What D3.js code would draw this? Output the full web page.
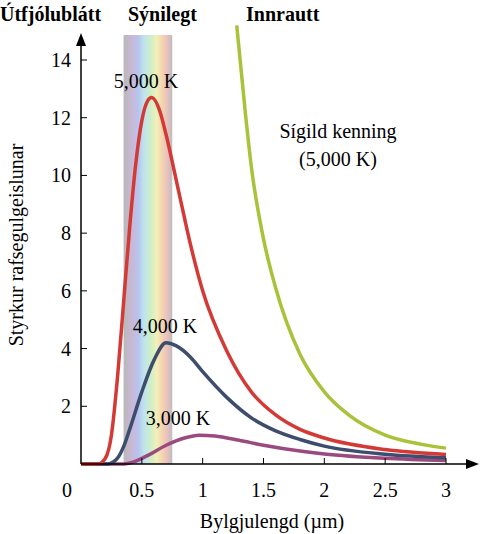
<!DOCTYPE html>
<html><head><meta charset="utf-8">
<script src="https://cdn.jsdelivr.net/npm/d3@7"></script>
<style>body{margin:0;background:#fff}text{font-family:"Liberation Serif","Times New Roman",serif}</style>
</head><body><div id="root"></div>
<script>
var xTicks = [0, 0.5, 1, 1.5, 2, 2.5, 3]
var xTickLabels = ["0", "0.5", "1", "1.5", "2", "2.5", "3"]
var yTicks = [2, 4, 6, 8, 10, 12, 14]

var k5000 = [[0,0],[0.14,0],[0.2,0.2],[0.25,1.0],[0.3,3.0],[0.35,5.6],[0.4,8.2],[0.45,10.4],[0.5,11.9],[0.55,12.6],[0.58,12.7],[0.65,12.2],[0.7,11.4],[0.8,9.5],[0.9,7.6],[1.0,6.0],[1.2,3.9],[1.4,2.5],[1.6,1.7],[1.8,1.2],[2.0,0.9],[2.5,0.5],[3,0.33]]
var k4000 = [[0,0],[0.22,0],[0.3,0.2],[0.35,0.6],[0.4,1.2],[0.5,2.5],[0.6,3.6],[0.7,4.2],[0.78,4.1],[0.9,3.7],[1.0,3.2],[1.2,2.3],[1.4,1.6],[1.6,1.15],[1.8,0.85],[2.0,0.62],[2.5,0.34],[3,0.22]]
var k3000 = [[0,0],[0.35,0],[0.45,0.1],[0.55,0.3],[0.7,0.65],[0.85,0.9],[0.97,1.0],[1.1,0.97],[1.3,0.82],[1.5,0.65],[1.8,0.45],[2.0,0.35],[2.5,0.2],[3,0.12]]
var classical = [[1.28,15.2],[1.35,12.2],[1.4,10.3],[1.5,7.8],[1.6,6.1],[1.8,3.8],[2.0,2.5],[2.2,1.7],[2.5,1.0],[2.8,0.68],[3,0.55]]

var svg = d3.select("#root").append("svg").attr("width", 486).attr("height", 534)
var x = d3.scaleLinear().domain([0, 3]).range([81, 446])
var y = d3.scaleLinear().domain([0, 14]).range([464, 60])

// visible band
var defs = svg.append("defs")
var g = defs.append("linearGradient").attr("id", "vis")
var stops = [["#b8b8b8",0],["#c9b8d8",0.18],["#b6c4ee",0.3],["#bfe4ee",0.42],["#cdeec8",0.55],["#f2f0b8",0.68],["#f5d2b0",0.8],["#e8c0c0",0.9],["#bdbdbd",1]]
stops.forEach(function(s){ g.append("stop").attr("offset", s[1]).attr("stop-color", s[0]) })
svg.append("rect").attr("x", x(0.35)).attr("y", 35).attr("width", x(0.75) - x(0.35)).attr("height", y(0) - 35).attr("fill", "url(#vis)")

var line = d3.line().x(function(d){ return x(d[0]) }).y(function(d){ return y(d[1]) }).curve(d3.curveMonotoneX)
svg.append("path").datum(classical).attr("d", line).attr("fill", "none").attr("stroke", "#a8c23a").attr("stroke-width", 3.5)
svg.append("path").datum(k3000).attr("d", line).attr("fill", "none").attr("stroke", "#9a4a7e").attr("stroke-width", 3.5)
svg.append("path").datum(k4000).attr("d", line).attr("fill", "none").attr("stroke", "#3e4d6e").attr("stroke-width", 3.5)
svg.append("path").datum(k5000).attr("d", line).attr("fill", "none").attr("stroke", "#d33a35").attr("stroke-width", 3.5)

// axes
svg.append("line").attr("x1", x(0)).attr("x2", 470).attr("y1", y(0)).attr("y2", y(0)).attr("stroke", "#000").attr("stroke-width", 1.5)
svg.append("line").attr("x1", x(0)).attr("x2", x(0)).attr("y1", y(0)).attr("y2", 42).attr("stroke", "#000").attr("stroke-width", 1.5)
svg.append("path").attr("d", "M" + (x(0)-5) + ",46L" + x(0) + ",33L" + (x(0)+5) + ",46Z").attr("fill", "#000")
svg.append("path").attr("d", "M466," + (y(0)-5) + "L479," + y(0) + "L466," + (y(0)+5) + "Z").attr("fill", "#000")

xTicks.forEach(function(t, i){
  if (t > 0) svg.append("line").attr("x1", x(t)).attr("x2", x(t)).attr("y1", y(0)).attr("y2", y(0)-6).attr("stroke", "#000")
  svg.append("text").attr("x", t === 0 ? x(0) - 14 : x(t)).attr("y", 497).attr("text-anchor", "middle").attr("font-size", 20).text(xTickLabels[i])
})
yTicks.forEach(function(t){
  svg.append("line").attr("x1", x(0)).attr("x2", x(0)+6).attr("y1", y(t)).attr("y2", y(t)).attr("stroke", "#000")
  svg.append("text").attr("x", x(0) - 10).attr("y", y(t) + 7).attr("text-anchor", "end").attr("font-size", 20).text(t)
})

svg.append("text").attr("x", 272).attr("y", 528).attr("text-anchor", "middle").attr("font-size", 20).text("Bylgjulengd (µm)")
svg.append("text").attr("transform", "translate(23,245) rotate(-90)").attr("text-anchor", "middle").attr("font-size", 20).text("Styrkur rafsegulgeislunar")

svg.append("text").attr("x", 0).attr("y", 21).attr("font-size", 20).attr("font-weight", "bold").text("Útfjólublátt")
svg.append("text").attr("x", 128).attr("y", 21).attr("font-size", 20).attr("font-weight", "bold").text("Sýnilegt")
svg.append("text").attr("x", 246).attr("y", 21).attr("font-size", 20).attr("font-weight", "bold").text("Innrautt")

svg.append("text").attr("x", 146).attr("y", 88).attr("text-anchor", "middle").attr("font-size", 20).text("5,000 K")
svg.append("text").attr("x", 165).attr("y", 333).attr("text-anchor", "middle").attr("font-size", 20).text("4,000 K")
svg.append("text").attr("x", 178).attr("y", 425).attr("text-anchor", "middle").attr("font-size", 20).text("3,000 K")
svg.append("text").attr("x", 338).attr("y", 138).attr("text-anchor", "middle").attr("font-size", 20).text("Sígild kenning")
svg.append("text").attr("x", 338).attr("y", 166).attr("text-anchor", "middle").attr("font-size", 20).text("(5,000 K)")
</script></body></html>
